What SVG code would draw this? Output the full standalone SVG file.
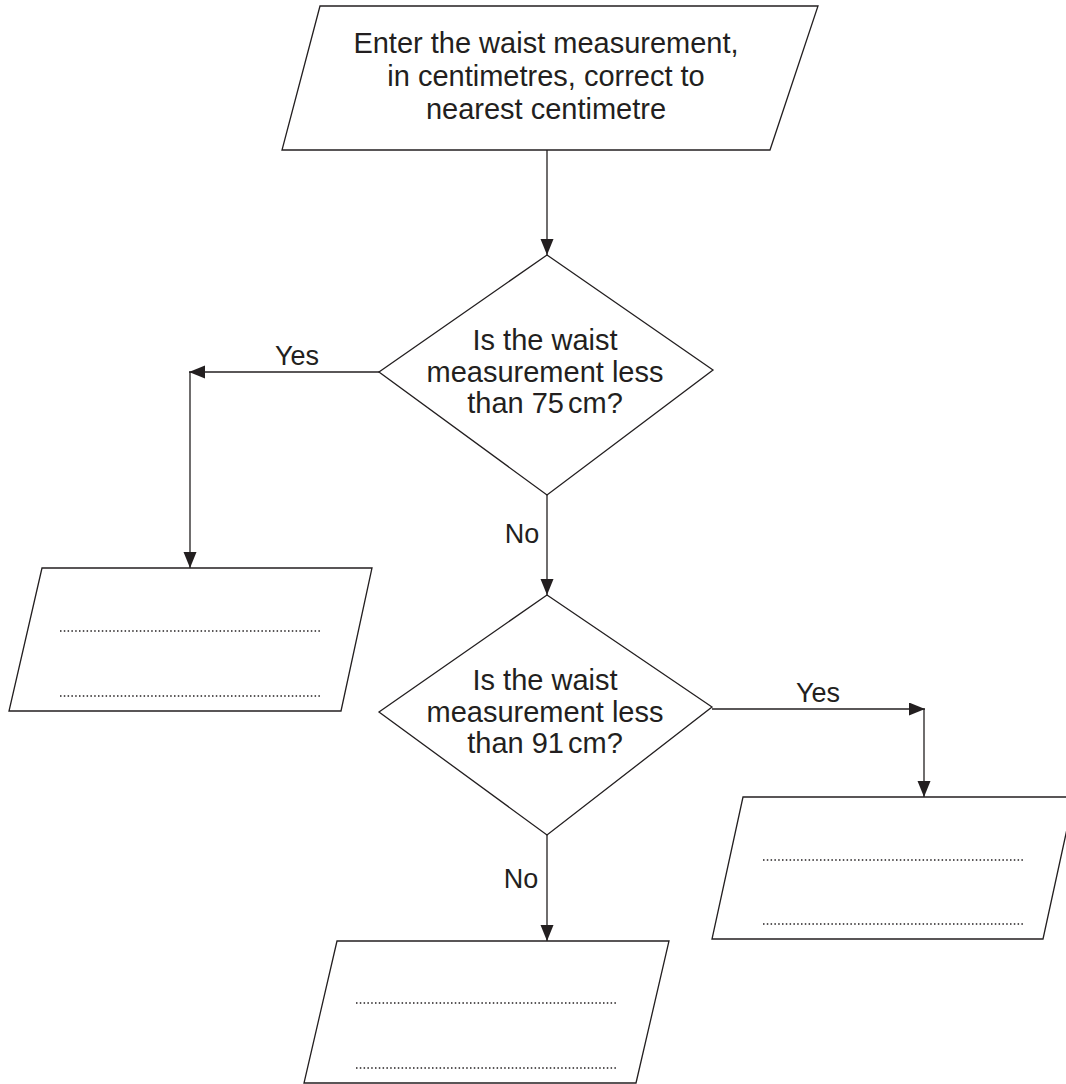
<svg xmlns="http://www.w3.org/2000/svg" width="1066" height="1084" viewBox="0 0 1066 1084">
<style>
.shape{fill:#fff;stroke:#231f20;stroke-width:1.3}
.conn{fill:none;stroke:#231f20;stroke-width:1.3}
.dots{fill:none;stroke:#231f20;stroke-width:1.5;stroke-dasharray:1.5 2.3}
.t{font-family:"Liberation Sans",Arial,sans-serif;fill:#231f20;text-anchor:middle}
.tt{font-size:29px}
.dt{font-size:29px}
.lb{font-size:27px}
</style>
<defs>
<marker id="ah" markerUnits="userSpaceOnUse" markerWidth="18" markerHeight="14" refX="16" refY="6.5" orient="auto">
<path d="M0,0 L16,6.5 L0,13 Z" fill="#231f20"/>
</marker>
</defs>
<rect width="1066" height="1084" fill="#fff"/>
<g id="connectors">
<path class="conn" d="M547,150 V255" marker-end="url(#ah)"/>
<path class="conn" d="M379,372 H189" marker-end="url(#ah)"/>
<path class="conn" d="M190,372 V568" marker-end="url(#ah)"/>
<path class="conn" d="M547,495 V595" marker-end="url(#ah)"/>
<path class="conn" d="M712,709 H925" marker-end="url(#ah)"/>
<path class="conn" d="M924,709 V797" marker-end="url(#ah)"/>
<path class="conn" d="M547,835 V941" marker-end="url(#ah)"/>
<text class="t lb" x="297" y="365">Yes</text>
<text class="t lb" x="818" y="702">Yes</text>
<text class="t lb" x="522" y="543">No</text>
<text class="t lb" x="521" y="888">No</text>
</g>
<g id="start">
<polygon class="shape" points="320,6 818,6 770,150 282,150"/>
<text class="t tt" x="546" y="53">Enter the waist measurement,</text>
<text class="t tt" x="546" y="86">in centimetres, correct to</text>
<text class="t tt" x="546" y="119">nearest centimetre</text>
</g>
<g id="decision1">
<polygon class="shape" points="547,255 713,370 547,495 379,372"/>
<text class="t dt" x="545" y="350">Is the waist</text>
<text class="t dt" x="545" y="382">measurement less</text>
<text class="t dt" x="545" y="413">than 75<tspan dx="4">cm?</tspan></text>
</g>
<g id="out1">
<polygon class="shape" points="42,568 372,568 341,711 9,711"/>
<path class="dots" d="M60,631 H322 M60,696 H322"/>
</g>
<g id="decision2">
<polygon class="shape" points="547,595 712,707 547,835 379,712"/>
<text class="t dt" x="545" y="690">Is the waist</text>
<text class="t dt" x="545" y="722">measurement less</text>
<text class="t dt" x="545" y="753">than 91<tspan dx="4">cm?</tspan></text>
</g>
<g id="out2">
<polygon class="shape" points="743,797 1074,797 1043,939 712,939"/>
<path class="dots" d="M763,860 H1023 M763,924 H1023"/>
</g>
<g id="out3">
<polygon class="shape" points="337,941 669,941 636,1083 304,1083"/>
<path class="dots" d="M356,1003 H617 M356,1068 H617"/>
</g>
</svg>
